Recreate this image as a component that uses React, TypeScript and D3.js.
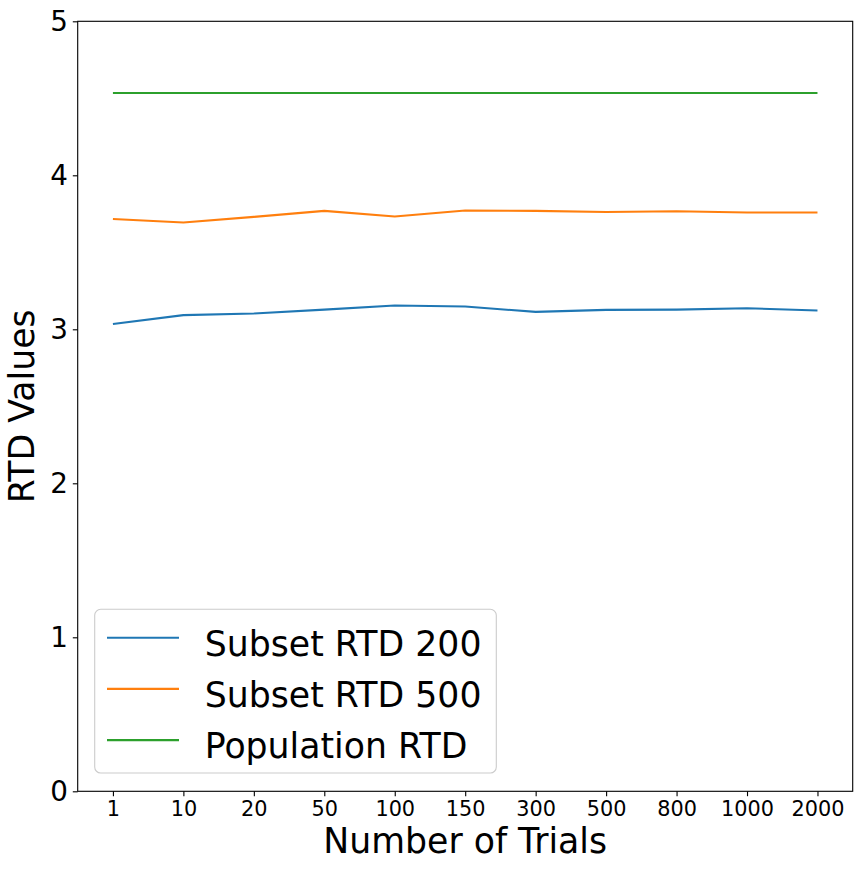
import { useEffect, useRef } from 'react';
import * as d3 from 'd3';

const trials = ['1', '10', '20', '50', '100', '150', '300', '500', '800', '1000', '2000'];
const subset200 = [3.035, 3.092, 3.103, 3.128, 3.155, 3.148, 3.113, 3.126, 3.128, 3.137, 3.122];
const subset500 = [3.716, 3.693, 3.73, 3.769, 3.732, 3.771, 3.769, 3.762, 3.767, 3.758, 3.758];
const population = [4.534, 4.534, 4.534, 4.534, 4.534, 4.534, 4.534, 4.534, 4.534, 4.534, 4.534];
const yTicks = [0, 1, 2, 3, 4, 5];

const seriesNames = ['Subset RTD 200', 'Subset RTD 500', 'Population RTD'];
const seriesColors = ['#1f77b4', '#ff7f0e', '#2ca02c'];

const WIDTH = 862;
const HEIGHT = 870;
const FONT = '"DejaVu Sans", sans-serif';

export default function App() {
  const svgRef = useRef<SVGSVGElement>(null);

  useEffect(() => {
    if (!svgRef.current) return;
    const svg = d3.select(svgRef.current);
    svg.selectAll('*').remove();

    const margin = { top: 21.3, right: 9.3, bottom: 78.7, left: 77.7 };
    const innerWidth = WIDTH - margin.left - margin.right;
    const innerHeight = HEIGHT - margin.top - margin.bottom;

    const x = d3.scalePoint<string>().domain(trials).range([0, innerWidth]).padding(0.5);
    const y = d3.scaleLinear().domain([0, 5]).range([innerHeight, 0]);

    svg.append('rect').attr('width', WIDTH).attr('height', HEIGHT).attr('fill', '#ffffff');

    const g = svg.append('g').attr('transform', `translate(${margin.left},${margin.top})`);

    // lines
    const allSeries = [subset200, subset500, population];
    const line = d3
      .line<number>()
      .x((_, i) => x(trials[i]) || 0)
      .y(d => y(d));

    allSeries.forEach((values, i) => {
      g.append('path')
        .datum(values)
        .attr('fill', 'none')
        .attr('stroke', seriesColors[i])
        .attr('stroke-width', 2.08)
        .attr('stroke-linejoin', 'round')
        .attr('stroke-linecap', 'butt')
        .attr('d', line);
    });

    // axes
    const xAxis = g
      .append('g')
      .attr('transform', `translate(0,${innerHeight})`)
      .call(d3.axisBottom(x).tickSize(4.9).tickPadding(4.9));
    xAxis.select('.domain').remove();
    xAxis.selectAll('line').attr('stroke', '#000').attr('stroke-width', 1.11);
    xAxis
      .selectAll('text')
      .attr('fill', '#000')
      .style('font-family', FONT)
      .style('font-size', '20.8px');

    const yAxis = g.append('g').call(
      d3
        .axisLeft(y)
        .tickValues(yTicks)
        .tickFormat(d => String(d))
        .tickSize(4.9)
        .tickPadding(4.9)
    );
    yAxis.select('.domain').remove();
    yAxis.selectAll('line').attr('stroke', '#000').attr('stroke-width', 1.11);
    yAxis
      .selectAll('text')
      .attr('fill', '#000')
      .style('font-family', FONT)
      .style('font-size', '27.8px');

    // frame
    g.append('rect')
      .attr('width', innerWidth)
      .attr('height', innerHeight)
      .attr('fill', 'none')
      .attr('stroke', '#000')
      .attr('stroke-width', 1.11);

    // axis labels
    g.append('text')
      .attr('x', innerWidth / 2)
      .attr('y', innerHeight + 62)
      .attr('text-anchor', 'middle')
      .style('font-family', FONT)
      .style('font-size', '34.7px')
      .attr('fill', '#000')
      .text('Number of Trials');

    svg
      .append('text')
      .attr('transform', `translate(34,${margin.top + innerHeight / 2}) rotate(-90)`)
      .attr('text-anchor', 'middle')
      .style('font-family', FONT)
      .style('font-size', '34.7px')
      .attr('fill', '#000')
      .text('RTD Values');

    // legend
    const legend = svg.append('g').attr('transform', 'translate(94.7,609.3)');
    legend
      .append('rect')
      .attr('width', 401.6)
      .attr('height', 163.7)
      .attr('rx', 6)
      .attr('ry', 6)
      .attr('fill', 'rgba(255,255,255,0.8)')
      .attr('stroke', '#cccccc')
      .attr('stroke-width', 1.11);

    seriesNames.forEach((name, i) => {
      const rowY = 28.4 + i * 51.2;
      legend
        .append('line')
        .attr('x1', 12.3)
        .attr('x2', 84.3)
        .attr('y1', rowY)
        .attr('y2', rowY)
        .attr('stroke', seriesColors[i])
        .attr('stroke-width', 2.08);
      legend
        .append('text')
        .attr('x', 110)
        .attr('y', rowY + 18)
        .style('font-family', FONT)
        .style('font-size', '34.7px')
        .attr('fill', '#000')
        .text(name);
    });
  }, []);

  return (
    <div style={{ position: 'absolute', left: 0, top: 0 }}>
      <svg ref={svgRef} width={WIDTH} height={HEIGHT} style={{ display: 'block' }}></svg>
    </div>
  );
}
